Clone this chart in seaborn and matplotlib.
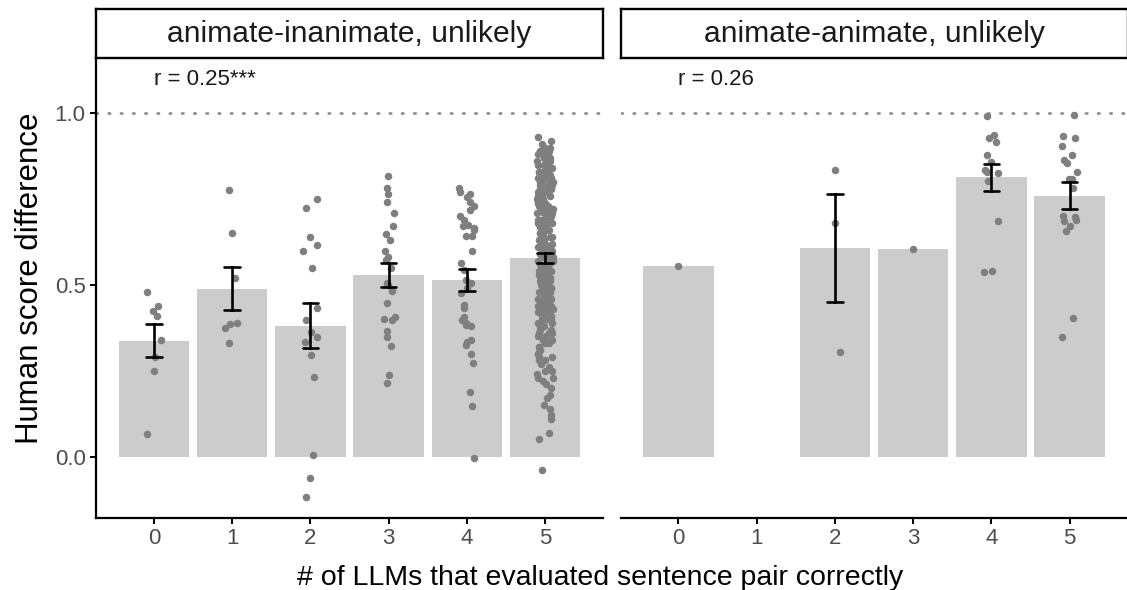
import numpy as np
import pandas as pd
import matplotlib
matplotlib.use("Agg")
import matplotlib.pyplot as plt
import seaborn as sns

# x categories: number of LLMs that got the pair right
llm_levels = ["0", "1", "2", "3", "4", "5"]
panel_titles = ["animate-inanimate, unlikely", "animate-animate, unlikely"]
panel_r = ["r = 0.25***", "r = 0.26"]

# --- animate-inanimate, unlikely: human score difference per item ---
ai_0 = [0.48, 0.44, 0.425, 0.41, 0.34, 0.29, 0.25, 0.065]
ai_1 = [0.775, 0.65, 0.52, 0.39, 0.385, 0.375, 0.33]
ai_2 = [0.749, 0.723, 0.640, 0.615, 0.599, 0.549, 0.432, 0.398, 0.364, 0.349,
        0.334, 0.297, 0.231, 0.006, -0.061, -0.119]
ai_3 = [0.817, 0.783, 0.766, 0.741, 0.708, 0.673, 0.649, 0.632, 0.599, 0.582,
        0.573, 0.549, 0.507, 0.500, 0.482, 0.448, 0.407, 0.400, 0.398, 0.365,
        0.349, 0.323, 0.239, 0.214]
ai_4 = [0.783, 0.770, 0.766, 0.756, 0.741, 0.730, 0.717, 0.700, 0.690, 0.675,
        0.671, 0.666, 0.660, 0.641, 0.641, 0.599, 0.563, 0.544, 0.515, 0.505,
        0.490, 0.476, 0.442, 0.432, 0.407, 0.398, 0.388, 0.383, 0.381, 0.339,
        0.334, 0.325, 0.300, 0.273, 0.188, 0.147, -0.004]
ai_5 = [0.93, 0.92, 0.91, 0.90, 0.90, 0.89, 0.89, 0.88, 0.88, 0.88,
        0.87, 0.87, 0.87, 0.86, 0.86, 0.86, 0.86, 0.85, 0.85, 0.85,
        0.84, 0.84, 0.84, 0.84, 0.83, 0.83, 0.83, 0.83, 0.82, 0.82,
        0.82, 0.82, 0.81, 0.81, 0.81, 0.81, 0.80, 0.80, 0.80, 0.80,
        0.79, 0.79, 0.79, 0.79, 0.78, 0.78, 0.78, 0.78, 0.77, 0.77,
        0.77, 0.76, 0.76, 0.76, 0.75, 0.75,
        0.74, 0.74, 0.74, 0.74, 0.73, 0.73, 0.73, 0.73, 0.72, 0.72,
        0.72, 0.72, 0.71, 0.71, 0.71, 0.71, 0.70, 0.70, 0.70, 0.70,
        0.69, 0.69, 0.69, 0.69, 0.68, 0.68, 0.68, 0.68, 0.67, 0.67,
        0.67, 0.67, 0.66, 0.66, 0.66, 0.65, 0.65, 0.65,
        0.64, 0.64, 0.64, 0.64, 0.63, 0.63, 0.63, 0.63, 0.62, 0.62,
        0.62, 0.62, 0.61, 0.61, 0.61, 0.61, 0.60, 0.60, 0.60, 0.60,
        0.59, 0.59, 0.59, 0.59, 0.58, 0.58, 0.58, 0.58, 0.57, 0.57,
        0.57, 0.56, 0.56, 0.56, 0.55, 0.55,
        0.54, 0.54, 0.54, 0.54, 0.53, 0.53, 0.53, 0.52, 0.52, 0.52,
        0.52, 0.51, 0.51, 0.51, 0.50, 0.50, 0.50, 0.50, 0.49, 0.49,
        0.49, 0.48, 0.48, 0.48, 0.48, 0.47, 0.47, 0.47, 0.46, 0.46,
        0.45, 0.45,
        0.44, 0.44, 0.44, 0.44, 0.43, 0.43, 0.43, 0.42, 0.42, 0.42,
        0.41, 0.41, 0.41, 0.41, 0.40, 0.40, 0.40, 0.39, 0.39, 0.39,
        0.38, 0.38, 0.38, 0.37, 0.37, 0.36, 0.36, 0.36, 0.35, 0.35,
        0.34, 0.34, 0.33, 0.33, 0.32, 0.32, 0.31, 0.31, 0.30, 0.30,
        0.29, 0.29, 0.28, 0.28, 0.27, 0.26, 0.25, 0.25,
        0.24, 0.23, 0.23, 0.22, 0.21, 0.20, 0.18, 0.17, 0.15, 0.14,
        0.12, 0.11, 0.07, 0.05, -0.04]

# --- animate-animate, unlikely ---
aa_0 = [0.556]
aa_1 = []
aa_2 = [0.836, 0.679, 0.305]
aa_3 = [0.605]
aa_4 = [0.992, 0.936, 0.929, 0.916, 0.878, 0.858, 0.836, 0.828, 0.825, 0.802,
        0.687, 0.541, 0.539]
aa_5 = [0.995, 0.934, 0.929, 0.904, 0.878, 0.863, 0.856, 0.828, 0.809, 0.809,
        0.783, 0.700, 0.698, 0.690, 0.685, 0.672, 0.658, 0.404, 0.348]

groups = {
    panel_titles[0]: [ai_0, ai_1, ai_2, ai_3, ai_4, ai_5],
    panel_titles[1]: [aa_0, aa_1, aa_2, aa_3, aa_4, aa_5],
}

rows = []
for title, vals_per_level in groups.items():
    for lvl, vals in zip(llm_levels, vals_per_level):
        for v in vals:
            rows.append((title, lvl, v))
df = pd.DataFrame(rows, columns=["panel", "n_llm", "score"])

sns.set_style("white")
plt.rcParams["font.family"] = ["Liberation Sans", "DejaVu Sans"]

np.random.seed(7)  # jitter only
fig = plt.figure(figsize=(11.27, 5.9), dpi=100)

W, H = 1127.0, 590.0
ax_bottom = (H - 517.7) / H
ax_top = (H - 58.3) / H
panel_w = 507 / W
lefts = [96 / W, 620.5 / W]

for i, title in enumerate(panel_titles):
    ax = fig.add_axes([lefts[i], ax_bottom, panel_w, ax_top - ax_bottom])
    sub = df[df["panel"] == title]

    ax.axhline(1.0, color="#8F8F8F", lw=2.0, linestyle=(0, (0.5, 3.9)),
               dash_capstyle="round", zorder=0.5)
    sns.barplot(data=sub, x="n_llm", y="score", order=llm_levels,
                color="#CCCCCC", saturation=1, width=0.9, linewidth=0,
                errorbar="se", capsize=0.2,
                err_kws={"color": "black", "linewidth": 1.9, "zorder": 4},
                ax=ax)
    sns.stripplot(data=sub, x="n_llm", y="score", order=llm_levels,
                  color="#7F7F7F", size=5.4, jitter=0.1, linewidth=0,
                  zorder=3, ax=ax)
    for ln in ax.lines:
        if ln.get_linestyle() == "-":
            ln.set_zorder(4)

    ax.set_xlim(-0.74, 5.74)
    ax.set_ylim(-0.178, 1.16)
    ax.set_yticks([0.0, 0.5, 1.0])
    ax.set_yticklabels(["0.0", "0.5", "1.0"])
    ax.set_xlabel("")
    ax.set_ylabel("")
    ax.text(0, 1.097, panel_r[i], ha="left", va="center", fontsize=16,
            color="#1A1A1A")

    for s in ["top", "right"]:
        ax.spines[s].set_visible(False)
    ax.spines["bottom"].set_linewidth(1.6)
    ax.spines["bottom"].set_color("black")
    ax.spines["left"].set_linewidth(1.6)
    ax.spines["left"].set_color("black")
    ax.tick_params(axis="both", length=4.5, width=1.4, color="black",
                   labelsize=16, labelcolor="#4D4D4D", pad=3)
    ax.tick_params(axis="both", which="both", bottom=True, left=True)
    if i == 1:
        ax.spines["left"].set_visible(False)
        ax.tick_params(axis="y", left=False, labelleft=False)

    # facet strip
    sax = fig.add_axes([lefts[i], ax_top, panel_w, 49 / H])
    sax.set_xticks([])
    sax.set_yticks([])
    sax.set_facecolor("white")
    for s in sax.spines.values():
        s.set_visible(True)
        s.set_linewidth(1.7)
        s.set_color("black")
    sax.text(0.5, 0.5, title, ha="center", va="center", fontsize=21.6,
             color="#1A1A1A", transform=sax.transAxes)

fig.text(600 / W, (H - 578) / H, "# of LLMs that evaluated sentence pair correctly",
         ha="center", va="center", fontsize=20.5, color="black")
fig.text(30 / W, (H - 278) / H, "Human score difference", rotation=90,
         ha="center", va="center", fontsize=22.5, color="black")

fig.savefig("out.png", dpi=100, facecolor="white")
